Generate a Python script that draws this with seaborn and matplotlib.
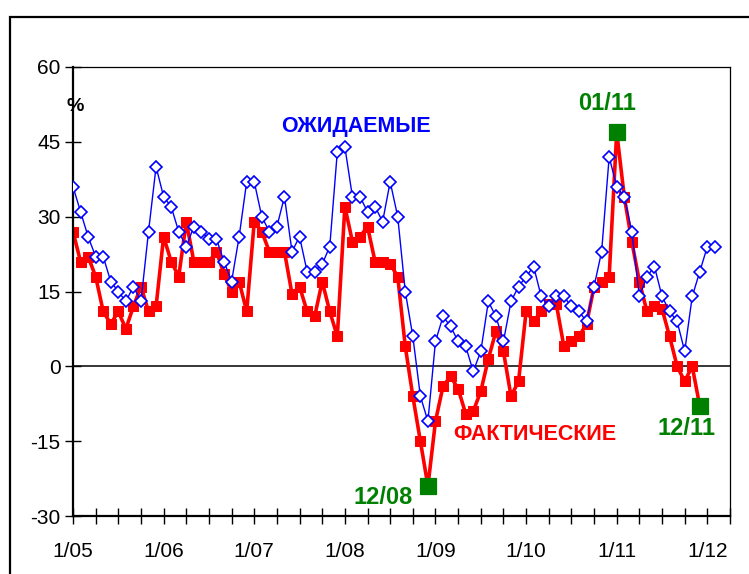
import numpy as np
import pandas as pd
import matplotlib
matplotlib.use("Agg")
import matplotlib.pyplot as plt
import matplotlib.patches as mpatches
import seaborn as sns

# ---- data (monthly, index 0 = 1/05) ----
expected = [36, 31, 26, 22, 22, 17, 15, 13, 16, 13, 27, 40,
            34, 32, 27, 24, 28, 27, 25.5, 25.5, 21, 17, 26, 37,
            37, 30, 27, 28, 34, 23, 26, 19, 19, 20.5, 24, 43,
            44, 34, 34, 31, 32, 29, 37, 30, 15, 6, -6, -11,
            5, 10, 8, 5, 4, -1, 3, 13, 10, 5, 13, 16,
            18, 20, 14, 12, 14, 14, 12, 11, 9, 16, 23, 42,
            36, 34, 27, 14, 18, 20, 14, 11, 9, 3, 14, 19,
            24, 24]
actual = [27, 21, 22, 18, 11, 8.5, 11, 7.5, 12, 16, 11, 12,
          26, 21, 18, 29, 21, 21, 21, 23, 18.5, 15, 17, 11,
          29, 27, 23, 23, 23, 14.5, 16, 11, 10, 17, 11, 6,
          32, 25, 26, 28, 21, 21, 20.5, 18, 4, -6, -15, -24,
          -11, -4, -2, -4.5, -9.5, -9, -5, 1.5, 7, 3, -6, -3,
          11, 9, 11, 12.5, 12.5, 4, 5, 6, 8.5, 16, 17, 18,
          47, 34, 25, 17, 11, 12, 11.5, 6, 0, -3, 0, -8]
highlight_idx = [47, 72, 83]
highlight_labels = ["12/08", "01/11", "12/11"]
year_labels = ["1/05", "1/06", "1/07", "1/08", "1/09", "1/10", "1/11", "1/12"]
y_ticks = [-30, -15, 0, 15, 30, 45, 60]

df_exp = pd.DataFrame({"m": np.arange(len(expected)), "v": expected})
df_act = pd.DataFrame({"m": np.arange(len(actual)), "v": actual})
df_hi = pd.DataFrame({"m": highlight_idx, "v": [actual[i] for i in highlight_idx]})

sns.set_theme(style="white")
plt.rcParams["font.family"] = ["Liberation Sans", "DejaVu Sans"]

fig = plt.figure(figsize=(7.49, 5.74), dpi=100)
ax = fig.add_axes([73 / 749, 1 - 516 / 574, (730 - 73) / 749, (516 - 67) / 574])

ax.axhline(0, color="black", lw=1.1, zorder=1)

sns.lineplot(data=df_act, x="m", y="v", ax=ax, color="#FF0000", lw=2.6,
             marker="s", markersize=7.3, markeredgecolor="#FF0000",
             markerfacecolor="#FF0000", zorder=2)
sns.lineplot(data=df_exp, x="m", y="v", ax=ax, color="#0000FF", lw=1.0,
             marker="D", markersize=6.2, markeredgecolor="#0000FF",
             markerfacecolor="white", markeredgewidth=1.2, zorder=3)
sns.scatterplot(data=df_hi, x="m", y="v", ax=ax, color="#008000", marker="s",
                s=125, edgecolor="#008000", zorder=4)

ax.set_xlim(0, 87)
ax.set_ylim(-30, 60)
ax.set_xticks(np.arange(0, 85, 12))
ax.set_xticklabels(year_labels)
ax.set_xticks(np.arange(0, 88, 3), minor=True)
ax.set_yticks(y_ticks)
ax.set_yticklabels([str(t) for t in y_ticks])
ax.set_xlabel("")
ax.set_ylabel("")

ax.tick_params(axis="both", which="both", direction="inout", length=11,
               width=1.0, color="black", labelsize=15, labelcolor="black")
ax.tick_params(axis="x", which="both", pad=13, bottom=True)
ax.tick_params(axis="y", which="both", pad=3.5, left=True)

for s in ["left", "bottom"]:
    ax.spines[s].set_linewidth(1.6)
    ax.spines[s].set_color("black")
for s in ["top", "right"]:
    ax.spines[s].set_linewidth(0.9)
    ax.spines[s].set_color("black")

ax.text(0.003, 0.913, "%", transform=ax.transAxes, ha="center", va="center",
        fontsize=14, fontweight="bold", color="black")
ax.text(37.5, 48.1, "ОЖИДАЕМЫЕ", ha="center", va="center", fontsize=15.5,
        fontweight="bold", color="#0000FF")
ax.text(61.1, -13.7, "ФАКТИЧЕСКИЕ", ha="center", va="center", fontsize=15.5,
        fontweight="bold", color="#FF0000")
ax.text(41.1, -26.3, highlight_labels[0], ha="center", va="center", fontsize=17,
        fontweight="bold", color="#008000")
ax.text(70.7, 52.7, highlight_labels[1], ha="center", va="center", fontsize=17,
        fontweight="bold", color="#008000")
ax.text(81.2, -12.4, highlight_labels[2], ha="center", va="center", fontsize=17,
        fontweight="bold", color="#008000")

# outer frame
frame = mpatches.Rectangle((10 / 749, -0.1), 1.2, 1.1 - 17 / 574,
                           transform=fig.transFigure, fill=False,
                           edgecolor="black", lw=1.6, clip_on=False)
fig.patches.append(frame)

fig.savefig("out.png", dpi=100, facecolor="white")
